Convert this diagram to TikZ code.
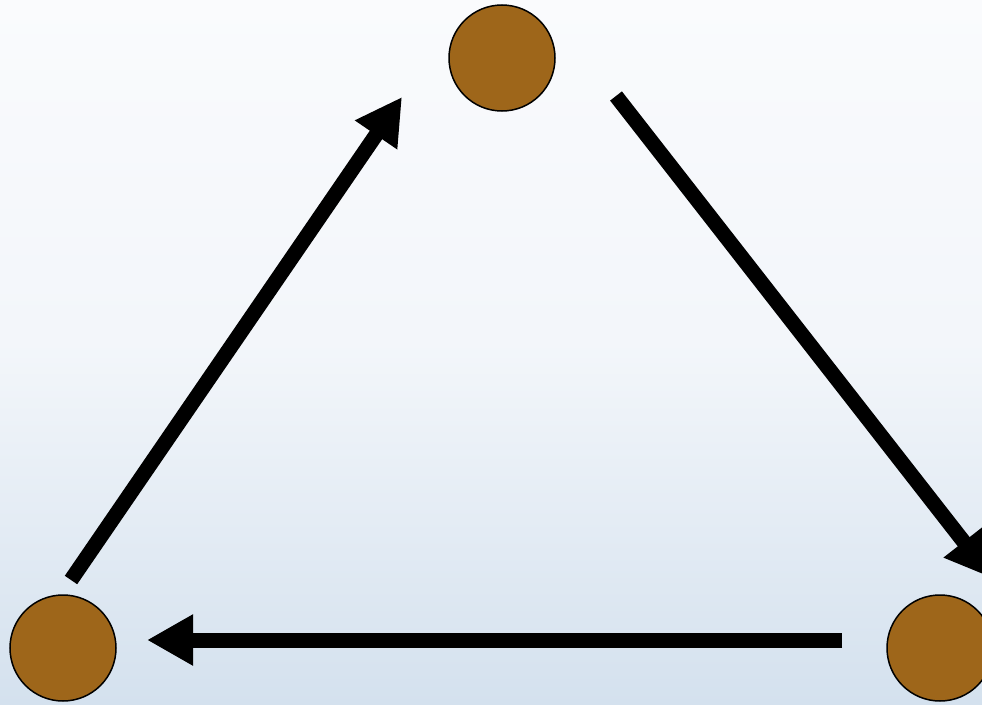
\documentclass[tikz,border=0pt]{standalone}
\usetikzlibrary{arrows.meta}

\definecolor{dotbrown}{RGB}{158,102,26}
\definecolor{bgtop}{RGB}{250,251,253}
\definecolor{bgbottom}{RGB}{212,225,238}

\begin{document}
\begin{tikzpicture}[
                dot/.style={
                    circle,
                    draw=black,
                    line width=1.5pt,
                    fill=dotbrown,
                    inner sep=0pt,
                    minimum size=106pt
                },
                flow/.style={
                    line width=15pt,
                    -{Triangle[length=46pt,width=48pt]}
                },
                x=1pt,
                y=-1pt
            ]

        % Background
        \useasboundingbox (0,0) rectangle (982,704);
        \clip (0,0) rectangle (982,704);
        \shade[top color=bgtop, bottom color=bgbottom, middle color=bgtop!80!bgbottom]
            (0,0) rectangle (982,704);

        % Dots
        \node[dot] (top)   at (502,58)  {};
        \node[dot] (left)  at (63,648)  {};
        \node[dot] (right) at (940,648) {};

        % Arrow ends
        \coordinate (left-out)  at (71,580);
        \coordinate (top-in)    at (402,97);
        \coordinate (top-out)   at (616,96);
        \coordinate (right-in)  at (992,578);
        \coordinate (right-out) at (842,640);
        \coordinate (left-in)   at (147,640);

        % Arrows
        \draw[flow] (left-out) -- (top-in);
        \draw[flow] (top-out) -- (right-in);
        \draw[flow] (right-out) -- (left-in);

\end{tikzpicture}
\end{document}
